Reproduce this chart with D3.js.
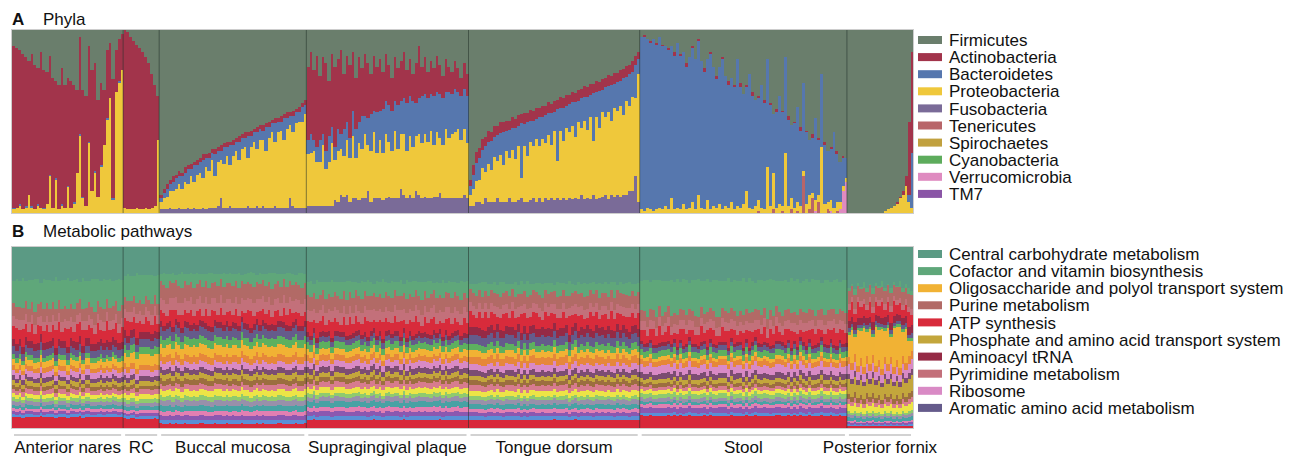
<!DOCTYPE html>
<html>
<head>
<meta charset="utf-8">
<script src="https://cdn.jsdelivr.net/npm/d3@7"></script>
<style>
body { margin: 0; background: #fff; }
text { font-family: "Liberation Sans", Arial, sans-serif; fill: #111; }
</style>
</head>
<body>
<svg id="chart" width="1305" height="458"></svg>
<script>
var sites = ["Anterior nares", "RC", "Buccal mucosa", "Supragingival plaque", "Tongue dorsum", "Stool", "Posterior fornix"];

// Panel A: phyla, legend order (top of stack first)
var phyla = ["Firmicutes", "Actinobacteria", "Bacteroidetes", "Proteobacteria", "Fusobacteria",
    "Tenericutes", "Spirochaetes", "Cyanobacteria", "Verrucomicrobia", "TM7"];
var phylaColors = ["#6a7e6c", "#a2344b", "#5677ae", "#efc83b", "#7a6b98",
    "#b86569", "#c1a13f", "#5dac5c", "#df8bc0", "#8a55a6"];

// relative abundance (%) per sample
var anFirm = [9,10,11,13,15,17,13,19,21,12,22,23,14,26,28,30,21,30,26,28,30,33,4,33,36,9,22,18,38,29,33,11,7,27,11,5,2];
var anActino = [88,87,84,85,81,73,83,79,74,85,75,72,65,71,53,68,74,67,59,69,64,45,53,58,60,52,66,59,53,45,30,37,30,65,23,23,20];
var anBact = [1,0,1,0,1,0,1,0,1,0,1,0,1,0,1,0,1,0,1,0,1,0,1,1,0,1,0,1,0,1,0,1,0,1,0,1,0];
var anProteo = [2,3,4,2,3,10,3,2,4,3,2,5,20,3,18,2,4,3,14,3,5,22,42,8,4,38,12,22,9,25,37,51,63,7,66,71,78];

var rcFirm = [0,1,4,6,8,10,12,15,18,24,30,36];
var rcActino = [97,97,94,92,89,88,86,82,80,73,66,24];
var rcProteo = [3,2,2,2,3,2,2,3,2,3,4,40];

var bmFirm = [90,87,84,82,80,79,77,78,75,74,73,72,71,70,68,68,67,65,65,64,63,62,61,61,60,59,58,57,56,56,55,54,53,52,52,51,50,49,48,48,47,46,45,45,44,43,42,40,38];
var bmActino = [2,2,3,2,3,2,3,2,3,2,3,2,3,2,3,2,3,2,3,2,3,2,3,2,3,2,3,2,3,2,3,2,3,2,3,2,3,2,3,2,3,2,3,2,3,2,3,2,3];
var bmBact = [2,3,4,4,5,6,4,7,5,8,4,9,5,6,10,5,7,4,12,6,5,9,5,11,6,5,10,6,5,12,6,5,9,6,5,13,6,5,10,6,5,12,6,5,9,6,5,8,5];
var bmProteo = [4,6,7,9,10,11,13,11,15,13,18,14,19,20,16,23,20,26,17,24,21,24,28,22,28,31,26,32,33,26,33,36,31,37,36,31,38,41,35,41,42,37,43,40,40,46,47,47,51];
var bmFuso = [2,2,2,3,2,2,3,2,2,3,2,3,2,2,3,2,3,3,3,4,8,3,3,4,3,3,3,3,3,4,3,3,4,3,4,3,3,3,4,3,3,3,3,8,4,3,3,3,3];

var spFirm = [20,12,22,14,25,15,18,28,13,20,16,11,24,14,19,12,26,15,21,13,18,24,14,20,16,23,13,19,26,15,21,17,12,22,16,24,18,9,20,15,23,17,21,14,19,25,16,20,23,17,21,26,18,24];
var spActino = [40,45,38,50,35,42,48,30,40,44,38,46,30,36,40,32,28,35,26,34,30,22,30,25,28,20,26,22,18,24,20,22,25,18,20,15,22,28,16,20,14,18,15,20,16,12,18,14,12,15,13,10,14,12];
var spBact = [8,10,6,8,12,6,10,14,9,7,12,8,15,10,11,14,16,12,18,10,15,20,12,22,16,24,18,20,22,16,24,18,20,26,22,25,18,20,26,22,24,20,27,22,24,26,20,25,22,24,20,24,22,26];
var spProteo = [28,29,30,24,24,33,20,24,34,22,28,25,22,30,24,34,22,31,27,35,25,28,36,25,32,26,35,30,26,37,27,30,33,26,32,28,30,33,30,34,31,37,28,35,30,29,38,33,35,36,38,32,36,30];
var spFuso = [4,4,4,4,4,4,4,4,4,7,6,10,9,10,6,8,8,7,8,8,12,6,8,8,8,7,8,9,8,8,8,13,10,8,10,8,12,10,8,9,8,8,9,9,11,8,8,8,8,8,8,8,10,8];

var tdFirm = [82,74,68,64,60,58,56,55,53,52,51,50,50,49,48,48,47,46,46,45,44,44,43,42,42,41,40,40,39,38,37,37,36,35,34,34,33,32,31,31,30,29,28,28,27,26,25,25,24,23,22,21,20,19,17,14,12];
var tdActino = [3,5,6,5,6,5,6,5,6,5,6,5,6,5,6,5,6,5,6,5,6,5,6,5,6,5,6,5,6,5,6,5,6,5,6,5,6,5,6,5,6,5,6,5,6,5,6,5,6,5,6,5,6,5,6,5,4];
var tdBact = [5,8,10,12,10,14,12,16,11,14,12,18,11,15,12,17,11,30,12,18,12,14,11,16,12,15,12,17,11,28,13,18,12,15,13,19,12,16,13,18,12,26,14,20,12,16,14,19,13,16,14,20,13,17,14,18,8];
var tdProteo = [6,9,12,12,20,14,21,17,25,20,26,20,28,22,29,23,30,11,31,25,32,28,35,28,35,30,36,29,38,20,38,31,40,36,40,33,42,36,43,37,45,29,45,38,47,42,48,40,49,45,50,43,52,46,52,42,70];
var tdFuso = [4,4,6,6,5,8,6,6,6,8,6,6,6,8,6,6,7,8,6,6,7,8,6,8,6,8,7,8,7,8,7,8,7,8,8,8,8,10,8,8,8,10,8,8,9,10,8,10,9,10,9,10,10,12,12,20,6];

var stFirm = [4,3,5,6,5,7,4,8,9,10,9,12,7,13,12,18,15,9,16,5,17,21,16,12,20,25,20,15,25,28,26,30,16,29,35,30,24,34,38,36,30,38,16,40,46,43,36,44,15,47,52,50,42,53,29,55,60,57,48,59,24,61,66,64,56,66,72,69,70];
var stActino = [0,1,0,1,0,1,0,1,0,1,0,2,0,1,0,2,0,1,0,1,0,2,0,1,0,2,0,1,0,2,0,1,0,2,0,1,0,2,0,1,0,2,0,1,0,2,0,1,0,2,0,1,0,2,0,1,0,2,0,1,0,2,0,1,0,2,0,1,0];
var stBact = [94,95,92,91,94,90,93,89,87,87,83,84,90,84,83,78,82,84,82,84,80,75,77,85,76,70,75,82,71,67,68,67,80,66,60,57,73,62,58,56,67,58,59,55,32,52,59,51,52,47,40,46,52,41,48,39,30,30,45,30,40,32,28,28,41,26,22,15,11];
var stProteo = [2,1,3,2,1,2,3,2,4,2,8,2,3,2,5,2,3,6,2,10,3,2,7,2,4,3,5,2,4,3,6,2,4,3,5,12,3,2,4,6,3,2,25,4,20,3,5,3,33,4,6,3,5,4,3,5,8,3,6,4,36,5,4,6,3,5,4,3,2];
var stTener = [0,0,0,0,0,0,0,0,0,0,0,0,0,0,0,0,0,0,0,0,0,0,0,0,0,0,0,0,0,0,0,0,0,0,0,0,0,0,0,1,0,0,0,0,2,0,0,1,0,0,2,0,1,0,20,0,2,8,0,6,0,0,2,0,0,1,0,0,0];
var stVerruco = [0,0,0,0,0,0,0,0,0,0,0,0,0,0,0,0,0,0,0,0,0,0,0,0,0,0,0,0,0,0,0,0,0,0,0,0,0,0,0,0,0,0,0,0,0,0,0,0,0,0,0,0,0,0,0,0,0,0,1,0,0,0,0,1,0,0,2,12,17];

var pfFirm = [100,100,100,100,100,100,100,100,100,100,100,100,99,98,97,96,94,91,88,80,50,12];
var pfActino = [0,0,0,0,0,0,0,0,0,0,0,0,0,0,0,0,1,1,2,5,40,55];
var pfBact = [0,0,0,0,0,0,0,0,0,0,0,0,0,0,0,0,0,0,0,0,4,30];
var pfProteo = [0,0,0,0,0,0,0,0,0,0,0,0,1,2,3,4,5,8,10,15,6,3];

// Panel B: pathway modules, stack order from the top down
var pathways = ["Central carbohydrate metabolism", "Cofactor and vitamin biosynthesis", "Purine metabolism",
    "Pyrimidine metabolism", "ATP synthesis", "Aminoacyl tRNA", "Aromatic amino acid metabolism",
    "Other module 1", "Oligosaccharide and polyol transport system", "Other module 2", "Ribosome",
    "Other module 3", "Phosphate and amino acid transport system", "Other module 4", "Other module 5",
    "Other module 6", "Other module 7", "Other module 8", "Other module 9", "Other module 10",
    "Other module 11", "Other module 12", "Other module 13"];
var pathwayColors = ["#5b9a84", "#5fa77a", "#b26a66", "#c3707a", "#d82b3b", "#952a45", "#655b8b",
    "#5db05f", "#f1b234", "#e6873a", "#d98ac5", "#7c4d72", "#c3a63c", "#9c6e3f", "#d77b8e",
    "#ece446", "#8fca6e", "#9890aa", "#48a2a4", "#e27fb2", "#8b58b0", "#5a8fd6", "#d8283a"];
var pathwayLegend = ["Central carbohydrate metabolism", "Cofactor and vitamin biosynthesis",
    "Oligosaccharide and polyol transport system", "Purine metabolism", "ATP synthesis",
    "Phosphate and amino acid transport system", "Aminoacyl tRNA", "Pyrimidine metabolism",
    "Ribosome", "Aromatic amino acid metabolism"];

// typical share (%) of each module per site, same order as pathways
var anPath = [18,14,7,5,7,4,4,2.5,3.5,2.5,3,2.5,2.5,2,2.5,2,2,2,2,1.5,1.5,1.5,6];
var rcPath = [15,13,6,5,6,4,4,4,5.5,3,3,2.5,2.5,2,2.5,2.5,2,2,2,1.5,1.5,1.5,5];
var bmPath = [15,5.5,9,7,6,3,5,4.5,5.5,4,3.5,3,3,3,3,3.5,2.5,3,3,2.5,2.5,2,2.5];
var spPath = [19,7,8,6,6,2.5,3,3.5,3.5,3,3.5,3,2.5,2.5,3,3,2,2.5,3,2.5,2.5,2,4.5];
var tdPath = [20,5.5,7,5,7,4,5,3.5,3.5,4,3.5,3,2.5,2.5,3,3,2,2.5,2.5,2,2,2,4.5];
var stPath = [19,18,6,5,6,2,2.5,3.5,2,3,4.5,3,2.5,2,2,2,2.5,2,1.5,2,3,1.5,7];
var pfPath = [22,2,7,3,6,4,2,1.5,17,4,5,3,8,3,2.5,4,1.5,1.5,2,1,1,1,1];

// per-sample values for the modules that vary most
var anCofactor = [12,16,14,18,10,16,12,19,14,10,17,13,16,11,19,10,16,14,18,12,16,13,9,18,14,11,16,19,12,14,17,10,16,13,11,18,14];
var anATP = [7,9,5,11,7,5,9,6,10,4,7,9,5,7,11,9,5,7,10,6,5,10,7,9,4,7,9,6,11,5,7,10,7,4,9,6,8];
var rcCofactor = [11,15,13,10,17,13,15,11,13,16,10,15];
var rcATP = [6,8,4,6,9,6,4,8,6,5,8,4];
var bmCofactor = [4,7,8,4,6,3,7,9,4,6,5,8,6,3,7,4,9,6,4,7,3,8,5,6,7,4,9,3,6,5,7,8,4,6,3,7,5,9,6,4,7,3,8,5,6,4,7,9,5];
var bmATP = [6,8,4,6,10,5,4,8,6,5,9,4,8,6,3,8,6,10,5,4,8,6,5,9,4,8,6,3,6,8,10,5,4,8,6,5,9,4,8,6,3,8,6,10,5,4,8,6,5];
var spCofactor = [7,9,5,11,7,4,9,6,10,5,7,9,5,11,6,9,4,7,10,5,9,7,5,9,6,11,5,7,9,4,7,9,5,11,6,9,5,7,10,5,9,7,4,9,6,10,5,7,9,5,7,11,6,9];
var spATP = [6,8,4,9,6,8,4,6,9,7,5,4,8,6,10,5,8,4,6,8,9,5,4,8,6,10,7,4,6,8,5,9,4,8,6,8,10,5,4,8,6,9,7,5,4,8,6,10,5,7,4,6,8,6];
var tdCofactor = [3,5,7,4,8,5,7,3,6,5,8,6,4,7,3,8,5,7,4,9,6,3,5,7,8,4,6,5,3,8,7,4,6,9,5,3,7,5,8,6,4,7,3,8,5,6,7,4,9,3,6,5,7,8,4,6,5];
var tdATP = [9,7,5,9,7,11,5,7,9,4,7,10,7,5,9,7,4,11,7,9,5,7,9,7,4,10,7,9,5,7,6,9,4,11,7,5,9,7,6,4,10,9,7,5,7,9,4,11,7,6,9,5,7,9,7,4,9];
var stCofactor = [16,18,21,15,18,22,15,20,18,14,21,17,22,15,18,20,14,18,21,22,15,18,20,14,18,22,20,15,17,21,14,18,20,17,22,15,21,18,14,17,20,15,22,18,21,14,17,20,18,15,21,17,22,14,18,20,15,18,21,17,14,20,18,15,17,21,15,18,19];
var stATP = [6,8,4,6,9,5,10,4,6,8,5,3,8,6,10,6,4,8,5,6,9,4,10,6,8,5,3,8,6,10,5,8,4,6,9,5,10,6,4,8,6,8,3,10,6,8,5,4,9,6,10,5,8,4,6,9,5,10,6,8,4,6,9,5,10,8,6,8,6];
var pfCofactor = [2,1,3,2,1,4,2,1,3,2,1,4,2,1,3,2,1,4,2,2,3,2];
var pfATP = [6,9,4,10,6,8,4,9,5,8,6,10,4,8,6,10,5,8,4,7,8,5];
var pfOligo = [12,20,9,22,15,25,13,21,10,24,17,26,14,22,11,25,19,27,13,20,8,5];

// tables built from the arrays above
var phylaBySite = [
    {Firmicutes: anFirm, Actinobacteria: anActino, Bacteroidetes: anBact, Proteobacteria: anProteo},
    {Firmicutes: rcFirm, Actinobacteria: rcActino, Proteobacteria: rcProteo},
    {Firmicutes: bmFirm, Actinobacteria: bmActino, Bacteroidetes: bmBact, Proteobacteria: bmProteo, Fusobacteria: bmFuso},
    {Firmicutes: spFirm, Actinobacteria: spActino, Bacteroidetes: spBact, Proteobacteria: spProteo, Fusobacteria: spFuso},
    {Firmicutes: tdFirm, Actinobacteria: tdActino, Bacteroidetes: tdBact, Proteobacteria: tdProteo, Fusobacteria: tdFuso},
    {Firmicutes: stFirm, Actinobacteria: stActino, Bacteroidetes: stBact, Proteobacteria: stProteo, Tenericutes: stTener, Verrucomicrobia: stVerruco},
    {Firmicutes: pfFirm, Actinobacteria: pfActino, Bacteroidetes: pfBact, Proteobacteria: pfProteo}
];
var pathProfiles = [anPath, rcPath, bmPath, spPath, tdPath, stPath, pfPath];
var pathBySite = [
    {"Cofactor and vitamin biosynthesis": anCofactor, "ATP synthesis": anATP},
    {"Cofactor and vitamin biosynthesis": rcCofactor, "ATP synthesis": rcATP},
    {"Cofactor and vitamin biosynthesis": bmCofactor, "ATP synthesis": bmATP},
    {"Cofactor and vitamin biosynthesis": spCofactor, "ATP synthesis": spATP},
    {"Cofactor and vitamin biosynthesis": tdCofactor, "ATP synthesis": tdATP},
    {"Cofactor and vitamin biosynthesis": stCofactor, "ATP synthesis": stATP},
    {"Cofactor and vitamin biosynthesis": pfCofactor, "ATP synthesis": pfATP, "Oligosaccharide and polyol transport system": pfOligo}
];

var left = 12, right = 913;
var aTop = 30, aBottom = 213, bTop = 247, bBottom = 428;

var rowsA = [], rowsB = [], siteStart = [];
sites.forEach(function (site, si) {
    var n = phylaBySite[si].Firmicutes.length;
    siteStart.push(rowsA.length);
    for (var i = 0; i < n; i++) {
        var id = si + "-" + i;
        var ra = {id: id, site: site};
        phyla.forEach(function (p) {
            var arr = phylaBySite[si][p];
            ra[p] = arr ? arr[i] : 0;
        });
        rowsA.push(ra);
        var rb = {id: id, site: site};
        pathways.forEach(function (p, j) {
            var arr = pathBySite[si][p];
            rb[p] = arr ? arr[i] : pathProfiles[si][j];
        });
        rowsB.push(rb);
    }
});

var x = d3.scaleBand()
    .domain(rowsA.map(function (d) { return d.id; }))
    .range([left, right])
    .paddingInner(0).paddingOuter(0);

var yA = d3.scaleLinear().domain([0, 1]).range([aBottom, aTop]);
var yB = d3.scaleLinear().domain([0, 1]).range([bBottom, bTop]);
var colorA = d3.scaleOrdinal().domain(phyla).range(phylaColors);
var colorB = d3.scaleOrdinal().domain(pathways).range(pathwayColors);

var stackA = d3.stack().keys(phyla.slice().reverse()).offset(d3.stackOffsetExpand);
var stackB = d3.stack().keys(pathways.slice().reverse()).offset(d3.stackOffsetExpand);

var svg = d3.select("#chart");

function drawStack(series, y, color) {
    svg.append("g")
        .attr("shape-rendering", "crispEdges")
      .selectAll("g")
      .data(series)
      .join("g")
        .attr("fill", function (d) { return color(d.key); })
      .selectAll("rect")
      .data(function (d) { return d; })
      .join("rect")
        .attr("x", function (d) { return x(d.data.id); })
        .attr("y", function (d) { return y(d[1]); })
        .attr("width", x.bandwidth() + 0.6)
        .attr("height", function (d) { return Math.max(0, y(d[0]) - y(d[1])); });
}

drawStack(stackA(rowsA), yA, colorA);
drawStack(stackB(rowsB), yB, colorB);

// panel frames and site separators
[[aTop, aBottom], [bTop, bBottom]].forEach(function (p) {
    svg.append("rect")
        .attr("x", left - 0.5).attr("y", p[0] - 0.5)
        .attr("width", right - left + 1).attr("height", p[1] - p[0] + 1)
        .attr("fill", "none").attr("stroke", "#cdcdcd");
    svg.append("g").selectAll("line")
        .data(siteStart.slice(1))
        .join("line")
        .attr("x1", function (d) { return x(rowsA[d].id); })
        .attr("x2", function (d) { return x(rowsA[d].id); })
        .attr("y1", p[0]).attr("y2", p[1])
        .attr("stroke", "rgba(35,50,42,0.55)").attr("stroke-width", 1);
});

// site brackets and labels under panel B
var siteSpans = sites.map(function (s, si) {
    var a = siteStart[si], b = (si + 1 < sites.length ? siteStart[si + 1] : rowsA.length) - 1;
    return {site: s, x0: x(rowsA[a].id), x1: x(rowsA[b].id) + x.bandwidth()};
});
svg.append("g").selectAll("line")
    .data(siteSpans)
    .join("line")
    .attr("x1", function (d) { return d.x0 + 2; })
    .attr("x2", function (d) { return d.x1 - 2; })
    .attr("y1", 435).attr("y2", 435)
    .attr("stroke", "#d2d2d2").attr("stroke-width", 2);
svg.append("g").selectAll("text")
    .data(siteSpans)
    .join("text")
    .attr("x", function (d) { return (d.x0 + d.x1) / 2; })
    .attr("y", 453)
    .attr("text-anchor", "middle")
    .style("font-size", "17px")
    .text(function (d) { return d.site; });

// panel titles
function title(letter, label, y) {
    svg.append("text").attr("x", 12).attr("y", y)
        .style("font-size", "17px").style("font-weight", "bold").text(letter);
    svg.append("text").attr("x", 43).attr("y", y)
        .style("font-size", "17px").text(label);
}
title("A", "Phyla", 25);
title("B", "Metabolic pathways", 237);

// legends
function legend(names, color, y0) {
    var g = svg.append("g").selectAll("g")
        .data(names)
        .join("g")
        .attr("transform", function (d, i) { return "translate(918," + (y0 + i * 17.1) + ")"; });
    g.append("rect").attr("x", 0).attr("y", -4).attr("width", 24).attr("height", 8)
        .attr("fill", function (d) { return color(d); });
    g.append("text").attr("x", 31).attr("y", 0).attr("dy", "0.36em")
        .style("font-size", "17px").text(function (d) { return d; });
}
legend(phyla, colorA, 40);
legend(pathwayLegend, colorB, 254);
</script>
</body>
</html>
